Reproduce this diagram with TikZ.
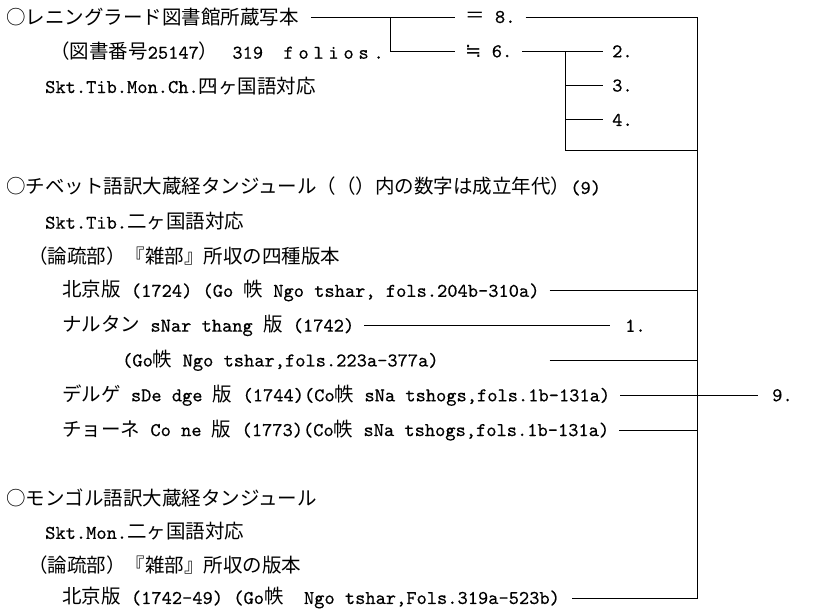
\documentclass[tikz,border=0pt]{standalone}
\usepackage{fontspec}
\setmainfont{lmmono10-regular.otf}[FakeBold=0.4]
\newfontfamily\jp{Noto Sans CJK JP}
\newfontfamily\sym{DejaVu Sans}
\def\spaced#1{\spacedi#1\relax}
\def\spacedi#1{\ifx#1\relax\else\makebox[15pt][c]{#1}\expandafter\spacedi\fi}
\begin{document}
\begin{tikzpicture}[x=1pt,y=-1pt,
  txt/.style={anchor=west,inner sep=0pt,font=\fontsize{19.5}{22}\selectfont},
  ln/.style={line width=1pt}]
\useasboundingbox (0,0) rectangle (817,611);
% text lines
\node[txt] (r0) at (6,17) {\jp ○レニングラード図書館所蔵写本};
\node[txt] (r1) at (50,51.3) {{\jp （図書番号}25147{\jp ）}\hspace{14pt}319\hspace{18pt}\spaced{folios.}};
\node[txt] (r2) at (45,85.6) {Skt.Tib.Mon.Ch.{\jp 四ヶ国語対応}};
\node[txt] (r5) at (6,186.5) {{\jp ○チベット語訳大蔵経タンジュール（（）内の数字は成立年代）}(9)};
\node[txt] (r6) at (45,221.3) {Skt.Tib.{\jp 二ヶ国語対応}};
\node[txt] (r7) at (28,256.1) {\jp （論疏部）『雑部』所収の四種版本};
\node[txt] (r8) at (62,290.9) {{\jp 北京版} (1724) (Go {\jp 帙} Ngo tshar, fols.204b-310a)};
\node[txt] (r9) at (62,325.7) {{\jp ナルタン} sNar thang {\jp 版} (1742)};
\node[txt] (r10) at (122,360.5) {(Go{\jp 帙} Ngo tshar,fols.223a-377a)};
\node[txt] (r11) at (62,395.3) {{\jp デルゲ} sDe dge {\jp 版} (1744)(Co{\jp 帙} sNa tshogs,fols.1b-131a)};
\node[txt] (r12) at (62,430.1) {{\jp チョーネ} Co ne {\jp 版} (1773)(Co{\jp 帙} sNa tshogs,fols.1b-131a)};
\node[txt] (r14) at (6,498) {\jp ○モンゴル語訳大蔵経タンジュール};
\node[txt] (r15) at (45,531.5) {Skt.Mon.{\jp 二ヶ国語対応}};
\node[txt] (r16) at (28,565.5) {\jp （論疏部）『雑部』所収の版本};
\node[txt] (r17) at (62,598) {{\jp 北京版} (1742-49) (Go{\jp 帙}\ \ Ngo tshar,Fols.319a-523b)};
% labels
\node[txt] (e8) at (465,17) {{\jp ＝} 8.};
\node[txt] (e6) at (465,51.3) {{\sym ≒} 6.};
\node[txt] (n2) at (612,51.3) {2.};
\node[txt] (n3) at (612,85.6) {3.};
\node[txt] (n4) at (612,119.9) {4.};
\node[txt] (n1) at (625,325.7) {1.};
\node[txt] (n9) at (772,395.3) {9.};
% junction coordinates
\coordinate (A) at (390,0);
\coordinate (B) at (565,0);
\coordinate (C) at (697,0);
\coordinate (bot) at (0,150);
\coordinate (r8e) at ([xshift=10pt]r8.east);
% connectors
\draw[ln] ([xshift=12pt]r0.east) -- ([xshift=-10pt]e8.west);
\draw[ln] (r0.east -| A) -- (e6.west -| A) -- ([xshift=-10pt]e6.west);
\draw[ln] ([xshift=10pt]e8.east) -| (r17.east -| C) -- ([xshift=12pt]r17.east);
\draw[ln] ([xshift=10pt]e6.east) -- ([xshift=-9pt]n2.west);
\draw[ln] (e6.east -| B) -- (B |- bot) -- (C |- bot);
\draw[ln] (n3.west -| B) -- ([xshift=-9pt]n3.west);
\draw[ln] (n4.west -| B) -- ([xshift=-9pt]n4.west);
\draw[ln] (r8e) -- (r8.east -| C);
\draw[ln] ([xshift=10pt]r9.east) -- ([xshift=-15pt]n1.west);
\draw[ln] (r8e |- r10.east) -- (r10.east -| C);
\draw[ln] ([xshift=10pt]r11.east) -- ([xshift=-14pt]n9.west);
\draw[ln] ([xshift=10pt]r12.east) -- (r12.east -| C);
\end{tikzpicture}
\end{document}
